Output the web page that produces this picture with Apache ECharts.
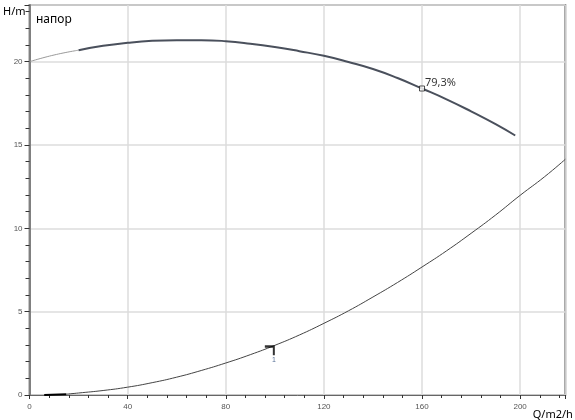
<!DOCTYPE html>
<html>
<head>
<meta charset="utf-8">
<script src="https://cdn.jsdelivr.net/npm/echarts@6/dist/echarts.min.js"></script>
<style>
  html, body { margin: 0; padding: 0; background: #fff; }
  #pumpChart { width: 575px; height: 420px; }
</style>
</head>
<body>
<div id="pumpChart"></div>
<script>
// напор насоса (Q, H) — тонкий участок в начале и основная кривая
const pumpStart = [[0, 20], [10, 20.4], [20, 20.69]];
const pumpMain = [
  [20, 20.69], [30, 20.95], [40, 21.13], [50, 21.25], [60, 21.29], [70, 21.29],
  [80, 21.23], [90, 21.08], [100, 20.88], [110, 20.63], [120, 20.35], [130, 19.98],
  [140, 19.56], [150, 19.02], [160, 18.39], [170, 17.74], [180, 17.02], [190, 16.25],
  [198, 15.57]
];
// характеристика сети
const systemStart = [[6, 0], [15, 0.05]];
const systemCurve = [
  [15, 0.05], [20, 0.12], [30, 0.27], [40, 0.47], [50, 0.74], [60, 1.07], [70, 1.47],
  [80, 1.92], [90, 2.42], [100, 2.98], [110, 3.6], [120, 4.3], [130, 5.05], [140, 5.88],
  [150, 6.75], [160, 7.68], [170, 8.65], [180, 9.7], [190, 10.8], [200, 11.98],
  [210, 13.1], [218.4, 14.14]
];
const dutyPoint = [[160, 18.39]];
const dutyLabel = '79,3%';
const opPoint = [[100, 2.98]];
const opLabel = '1';

const xMax = 218.4;
const yMax = 23.4;

const myChart = echarts.init(document.getElementById('pumpChart'));
const tickFont = { fontSize: 8, color: '#555', fontFamily: 'Liberation Sans' };

const option = {
  animation: false,
  title: {
    text: 'напор',
    left: 31,
    top: 9,
    textStyle: { fontSize: 12, fontWeight: 'normal', color: '#000', fontFamily: 'Noto Sans' }
  },
  grid: {
    left: 25, right: 4, top: 5, bottom: 22,
    show: true,
    borderColor: '#8a8a8a',
    borderWidth: 2
  },
  xAxis: {
    type: 'value', min: 0, max: xMax, interval: 40,
    name: 'Q/m2/h',
    nameLocation: 'end',
    nameGap: -34,
    nameTextStyle: { fontSize: 11, color: '#000', fontFamily: 'Noto Sans', verticalAlign: 'top', padding: [14, 0, 0, 0] },
    axisLine: { show: true, onZero: false, lineStyle: { color: '#666', width: 1 } },
    axisTick: { show: true, inside: false, length: 4, lineStyle: { color: '#333', width: 1 } },
    minorTick: { show: true, splitNumber: 5, length: 3, lineStyle: { color: '#333', width: 1 } },
    axisLabel: Object.assign({ margin: 8, showMaxLabel: false }, tickFont),
    splitLine: { show: true, lineStyle: { color: '#dcdcdc', width: 1.5 } }
  },
  yAxis: {
    type: 'value', min: 0, max: yMax, interval: 5,
    name: 'H/m',
    nameLocation: 'end',
    nameGap: -12,
    nameTextStyle: { fontSize: 11, color: '#000', fontFamily: 'Noto Sans', align: 'right', padding: [0, 4, 0, 0] },
    axisLine: { show: true, lineStyle: { color: '#808080', width: 2 } },
    axisTick: { show: true, inside: false, length: 5, lineStyle: { color: '#333', width: 1 } },
    minorTick: { show: true, splitNumber: 5, length: 4, lineStyle: { color: '#333', width: 1 } },
    axisLabel: Object.assign({ margin: 7, showMaxLabel: false }, tickFont),
    splitLine: { show: true, lineStyle: { color: '#dcdcdc', width: 1.5 } }
  },
  series: [
    {
      type: 'line', data: pumpStart, smooth: true, symbol: 'none',
      lineStyle: { color: '#9a9a9a', width: 1 }
    },
    {
      type: 'line', data: pumpMain, smooth: true, symbol: 'none',
      lineStyle: { color: '#4a505c', width: 2 }
    },
    {
      type: 'line', data: systemStart, symbol: 'none',
      lineStyle: { color: '#000', width: 2 }
    },
    {
      type: 'line', data: systemCurve, smooth: true, symbol: 'none',
      lineStyle: { color: '#444', width: 1 }
    },
    {
      type: 'scatter', data: dutyPoint, symbol: 'rect', symbolSize: 5,
      itemStyle: { color: '#fff', borderColor: '#222', borderWidth: 1 },
      label: {
        show: true, formatter: dutyLabel, position: 'right', offset: [-5, -6],
        fontSize: 11, color: '#000', fontFamily: 'Noto Sans'
      },
      z: 5
    },
    {
      type: 'scatter', data: opPoint,
      symbol: 'path://M0,0 L10,0 L10,10 L8,10 L8,2.5 L0,2.5 Z',
      symbolSize: [10, 10], symbolOffset: [-5, 5],
      itemStyle: { color: '#000' },
      label: {
        show: true, formatter: opLabel, position: 'bottom', offset: [4, -4],
        fontSize: 7, color: '#2a4a7a', fontFamily: 'Liberation Sans'
      },
      z: 5
    }
  ]
};

myChart.setOption(option);
window.addEventListener('resize', function () {
  myChart.resize();
});
</script>
</body>
</html>
